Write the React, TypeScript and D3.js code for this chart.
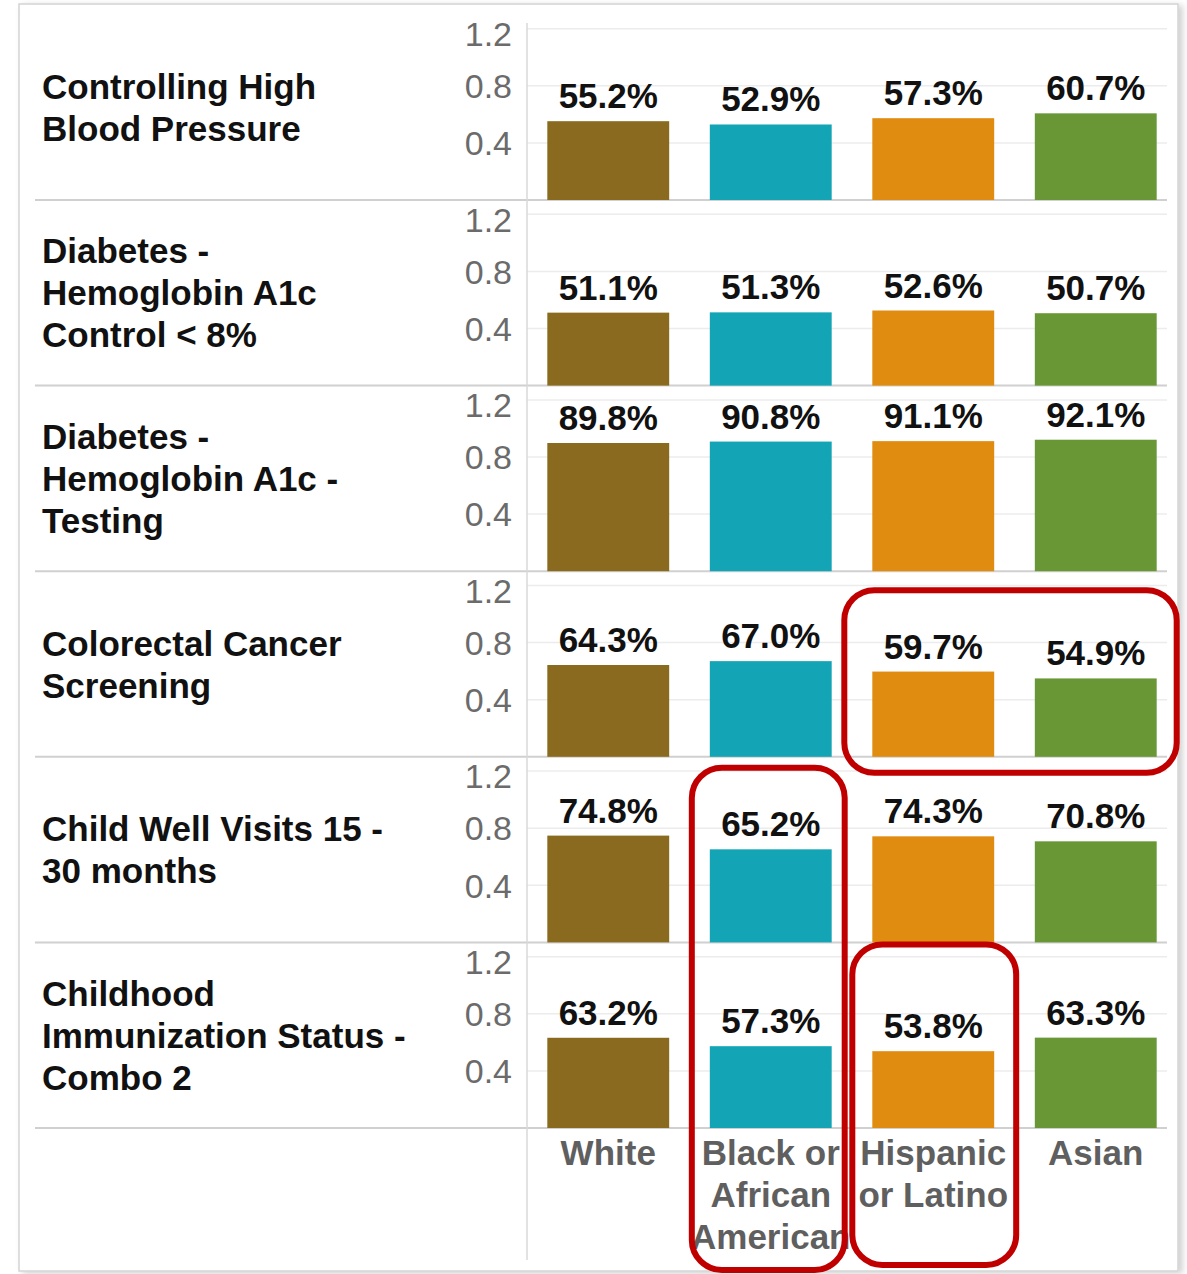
import React from "react";
import * as d3 from "d3";

const WIDTH = 1187;
const HEIGHT = 1274;
const FONT = "'Liberation Sans', Arial, Helvetica, sans-serif";

const groups = ["White", "Black or African American", "Hispanic or Latino", "Asian"];
const groupLines = [["White"], ["Black or", "African", "American"], ["Hispanic", "or Latino"], ["Asian"]];
const groupColors = ["#8A6A1E", "#13A5B5", "#E08C11", "#699736"];

const measures = [
  "Controlling High Blood Pressure",
  "Diabetes - Hemoglobin A1c Control < 8%",
  "Diabetes - Hemoglobin A1c - Testing",
  "Colorectal Cancer Screening",
  "Child Well Visits 15 - 30 months",
  "Childhood Immunization Status - Combo 2",
];
const measureLines = [
  ["Controlling High", "Blood Pressure"],
  ["Diabetes -", "Hemoglobin A1c", "Control < 8%"],
  ["Diabetes -", "Hemoglobin A1c -", "Testing"],
  ["Colorectal Cancer", "Screening"],
  ["Child Well Visits 15 -", "30 months"],
  ["Childhood", "Immunization Status -", "Combo 2"],
];

// one value per measure, in the order above
const whiteVals = [0.552, 0.511, 0.898, 0.643, 0.748, 0.632];
const blackVals = [0.529, 0.513, 0.908, 0.670, 0.652, 0.573];
const hispanicVals = [0.573, 0.526, 0.911, 0.597, 0.743, 0.538];
const asianVals = [0.607, 0.507, 0.921, 0.549, 0.708, 0.633];
const seriesVals = [whiteVals, blackVals, hispanicVals, asianVals];

const yTicks = [0.4, 0.8, 1.2];

// red call-out boxes: which cells are circled, and whether the box runs down over the x labels
const highlights = [
  { measures: [3], groups: [2, 3], toLabels: false, pad: [28, 20, -19, 16] },
  { measures: [4, 5], groups: [1], toLabels: true, pad: [18, 13, -11, 0] },
  { measures: [5], groups: [2], toLabels: true, pad: [20, 22, -2, 0] },
];

export default function App() {
  const axisX = 527;
  const gridRight = 1167;

  const row = d3.scaleBand<string>().domain(measures).range([14.4, 1128]);
  const rowH = row.bandwidth();
  const x = d3.scaleBand<string>().domain(groups).range([axisX, 1177]).paddingInner(0.25).paddingOuter(0.125);
  const y = d3.scaleLinear().domain([0, 1.3]).range([rowH, 0]);
  const fmt = d3.format(".1%");
  const lineH = 42;
  const labelTop = 1128 + 37;

  return (
    <div style={{ position: "absolute", left: 0, top: 0 }}>
      <svg width={WIDTH} height={HEIGHT} style={{ display: "block", background: "#fff" }}>
        <defs>
          <filter id="shadow" x="-5%" y="-5%" width="110%" height="110%">
            <feDropShadow dx="4" dy="2" stdDeviation="3" floodColor="#000" floodOpacity="0.18" />
          </filter>
        </defs>
        <rect x={19} y={4} width={1159} height={1267} fill="#fff" stroke="#d4d4d4" strokeWidth={1.5} filter="url(#shadow)" />

        {measures.map((m, i) => {
          const top = row(m)!;
          return (
            <g key={m} transform={`translate(0,${top})`}>
              {yTicks.map((t, ti) => (
                <g key={t}>
                  <line x1={axisX} x2={gridRight} y1={y(t)} y2={y(t)} stroke="#ececec" strokeWidth={1.5} />
                  <text
                    x={512}
                    y={y(t) + (ti === yTicks.length - 1 ? 5 : 0)}
                    dy="0.36em"
                    textAnchor="end"
                    fontFamily={FONT}
                    fontSize={34}
                    fill="#6b6b6b"
                  >
                    {t.toFixed(1)}
                  </text>
                </g>
              ))}
              <line x1={35} x2={gridRight} y1={rowH} y2={rowH} stroke="#d0d0d0" strokeWidth={2} />
              <text fontFamily={FONT} fontSize={35} fontWeight="bold" fill="#111">
                {measureLines[i].map((ln, k) => (
                  <tspan key={k} x={42} y={rowH / 2 + (k - (measureLines[i].length - 1) / 2) * lineH} dy="0.36em">
                    {ln}
                  </tspan>
                ))}
              </text>
              {groups.map((g, j) => {
                const v = seriesVals[j][i];
                return (
                  <g key={g}>
                    <rect x={x(g)} y={y(v)} width={x.bandwidth()} height={rowH - y(v)} fill={groupColors[j]} />
                    <text
                      x={x(g)! + x.bandwidth() / 2}
                      y={y(v) - 13}
                      textAnchor="middle"
                      fontFamily={FONT}
                      fontSize={35}
                      fontWeight="bold"
                      fill="#111"
                    >
                      {fmt(v)}
                    </text>
                  </g>
                );
              })}
            </g>
          );
        })}

        <line x1={axisX} x2={axisX} y1={23} y2={1260} stroke="#d8d8d8" strokeWidth={1.5} />

        {groups.map((g, j) => (
          <text key={g} fontFamily={FONT} fontSize={35} fontWeight="bold" fill="#5f5f5f" textAnchor="middle">
            {groupLines[j].map((ln, k) => (
              <tspan key={k} x={x(g)! + x.bandwidth() / 2} y={labelTop + k * lineH}>
                {ln}
              </tspan>
            ))}
          </text>
        ))}

        {highlights.map((h, i) => {
          const g0 = groups[h.groups[0]];
          const g1 = groups[h.groups[h.groups.length - 1]];
          const m0 = measures[h.measures[0]];
          const m1 = measures[h.measures[h.measures.length - 1]];
          const [pl, pr, pt, pb] = h.pad;
          const x0 = x(g0)! - pl;
          const x1 = x(g1)! + x.bandwidth() + pr;
          const y0 = row(m0)! - pt;
          const y1 = h.toLabels ? 1268 + (i === 2 ? -3 : 2) : row(m1)! + rowH + pb;
          return (
            <rect key={i} x={x0} y={y0} width={x1 - x0} height={y1 - y0} rx={30} ry={30} fill="none" stroke="#C00000" strokeWidth={6} />
          );
        })}
      </svg>
    </div>
  );
}
